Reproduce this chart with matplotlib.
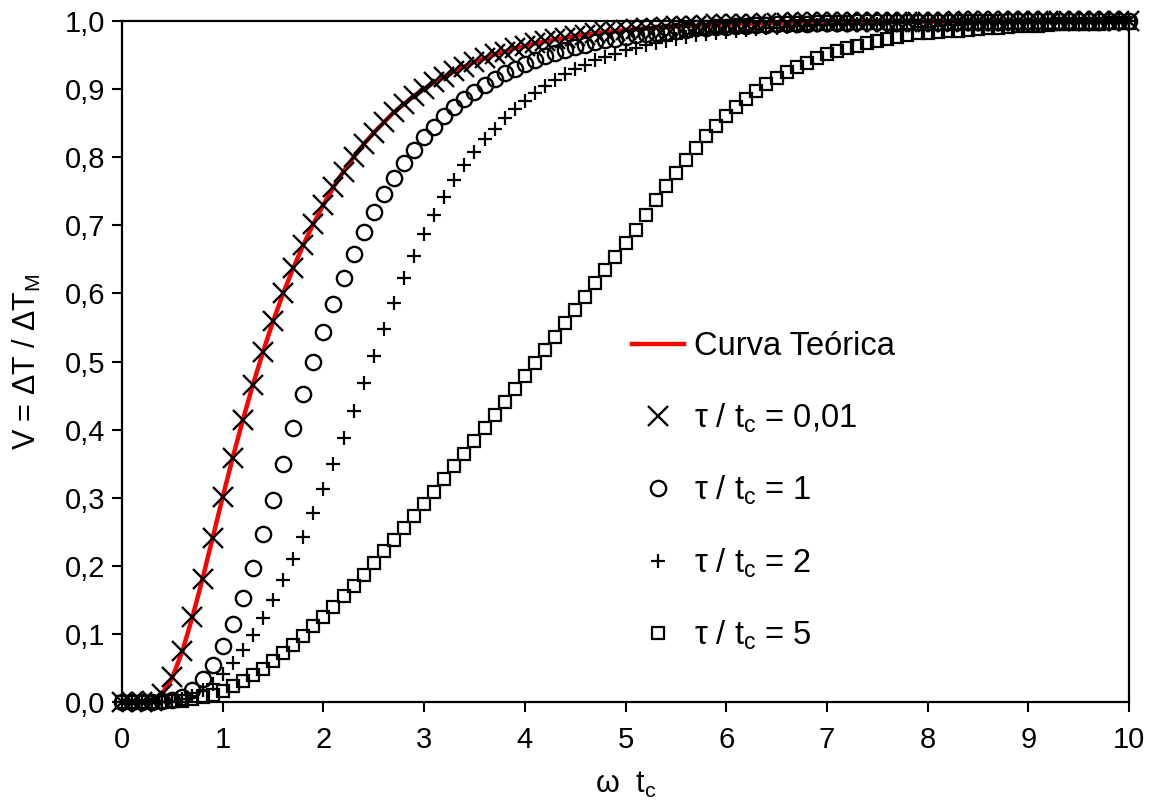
import numpy as np
import matplotlib
matplotlib.use("Agg")
import matplotlib.pyplot as plt

plt.rcParams["font.family"] = ["Liberation Sans", "DejaVu Sans"]
plt.rcParams["mathtext.fontset"] = "custom"
plt.rcParams["mathtext.rm"] = "Liberation Sans"
plt.rcParams["mathtext.it"] = "Liberation Sans:italic"
plt.rcParams["mathtext.default"] = "regular"

# omega*tc grid, step 0.1
wt = np.round(np.arange(0, 101) * 0.1, 1)

# theoretical curve (also the tau/tc = 0,01 points)
v_teo = [
    0.000, 0.000, 0.000, 0.002, 0.012, 0.036, 0.075, 0.125, 0.181, 0.241,
    0.301, 0.359, 0.414, 0.466, 0.514, 0.559, 0.600, 0.637, 0.671, 0.702,
    0.730, 0.756, 0.779, 0.800, 0.819, 0.836, 0.851, 0.866, 0.878, 0.890,
    0.900, 0.910, 0.918, 0.926, 0.933, 0.940, 0.945, 0.951, 0.955, 0.960,
    0.963, 0.967, 0.970, 0.973, 0.975, 0.978, 0.980, 0.982, 0.984, 0.985,
    0.987, 0.988, 0.989, 0.990, 0.991, 0.992, 0.993, 0.993, 0.994, 0.995,
    0.995, 0.996, 0.996, 0.996, 0.997, 0.997, 0.997, 0.998, 0.998, 0.998,
    0.998, 0.998, 0.999, 0.999, 0.999, 0.999, 0.999, 0.999, 0.999, 0.999,
    0.999, 0.999, 0.999, 1.000, 1.000, 1.000, 1.000, 1.000, 1.000, 1.000,
    1.000, 1.000, 1.000, 1.000, 1.000, 1.000, 1.000, 1.000, 1.000, 1.000,
    1.000,
]
v_001 = list(v_teo)

v_1 = [
    0.000, 0.000, 0.000, 0.000, 0.001, 0.003, 0.008, 0.018, 0.034, 0.055,
    0.082, 0.115, 0.153, 0.197, 0.246, 0.297, 0.350, 0.402, 0.452, 0.499,
    0.544, 0.585, 0.623, 0.658, 0.690, 0.719, 0.746, 0.770, 0.791, 0.811,
    0.829, 0.845, 0.860, 0.873, 0.885, 0.896, 0.906, 0.915, 0.923, 0.930,
    0.937, 0.943, 0.948, 0.953, 0.958, 0.962, 0.965, 0.969, 0.972, 0.974,
    0.977, 0.979, 0.981, 0.983, 0.984, 0.986, 0.987, 0.989, 0.990, 0.991,
    0.991, 0.992, 0.993, 0.994, 0.994, 0.995, 0.995, 0.996, 0.996, 0.997,
    0.997, 0.997, 0.997, 0.998, 0.998, 0.998, 0.998, 0.998, 0.999, 0.999,
    0.999, 0.999, 0.999, 0.999, 0.999, 0.999, 0.999, 0.999, 1.000, 1.000,
    1.000, 1.000, 1.000, 1.000, 1.000, 1.000, 1.000, 1.000, 1.000, 1.000,
    1.000,
]

v_2 = [
    0.000, 0.000, 0.000, 0.000, 0.000, 0.002, 0.004, 0.009, 0.017, 0.027,
    0.041, 0.057, 0.077, 0.099, 0.123, 0.150, 0.179, 0.210, 0.243, 0.277,
    0.313, 0.350, 0.388, 0.428, 0.468, 0.508, 0.548, 0.586, 0.622, 0.655,
    0.687, 0.715, 0.742, 0.766, 0.788, 0.808, 0.826, 0.842, 0.857, 0.871,
    0.883, 0.894, 0.904, 0.913, 0.922, 0.929, 0.936, 0.942, 0.947, 0.952,
    0.957, 0.961, 0.965, 0.968, 0.971, 0.974, 0.976, 0.979, 0.981, 0.982,
    0.984, 0.986, 0.987, 0.988, 0.989, 0.990, 0.991, 0.992, 0.993, 0.994,
    0.994, 0.995, 0.995, 0.996, 0.996, 0.996, 0.997, 0.997, 0.997, 0.998,
    0.998, 0.998, 0.998, 0.998, 0.999, 0.999, 0.999, 0.999, 0.999, 0.999,
    0.999, 0.999, 0.999, 0.999, 0.999, 1.000, 1.000, 1.000, 1.000, 1.000,
    1.000,
]

v_5 = [
    0.000, 0.000, 0.000, 0.000, 0.000, 0.001, 0.002, 0.004, 0.007, 0.011,
    0.016, 0.023, 0.031, 0.039, 0.049, 0.060, 0.072, 0.084, 0.097, 0.111,
    0.125, 0.140, 0.155, 0.171, 0.187, 0.204, 0.221, 0.238, 0.255, 0.273,
    0.291, 0.309, 0.327, 0.346, 0.364, 0.383, 0.402, 0.421, 0.440, 0.459,
    0.478, 0.498, 0.517, 0.536, 0.556, 0.575, 0.595, 0.615, 0.634, 0.654,
    0.674, 0.693, 0.715, 0.737, 0.758, 0.777, 0.796, 0.814, 0.831, 0.846,
    0.861, 0.874, 0.886, 0.897, 0.907, 0.917, 0.925, 0.933, 0.939, 0.946,
    0.951, 0.956, 0.960, 0.964, 0.968, 0.971, 0.974, 0.977, 0.980, 0.982,
    0.983, 0.984, 0.985, 0.986, 0.987, 0.988, 0.989, 0.990, 0.991, 0.992,
    0.993, 0.993, 0.994, 0.995, 0.995, 0.996, 0.996, 0.996, 0.997, 0.997,
    0.997,
]

labels = ["Curva Teórica",
          "τ / t$_{c}$ = 0,01",
          "τ / t$_{c}$ = 1",
          "τ / t$_{c}$ = 2",
          "τ / t$_{c}$ = 5"]

fig = plt.figure(figsize=(11.54, 8.05), dpi=100)
ax = fig.add_axes([122 / 1154, 1 - 702 / 805, (1129 - 122) / 1154, (702 - 21) / 805])

ax.plot(wt, v_teo, color="#ff0000", lw=3.2, label=labels[0], zorder=2, clip_on=False)
ax.plot(wt, v_001, ls="none", marker="x", ms=15, mew=1.7, color="black",
        label=labels[1], zorder=3, clip_on=False)
ax.plot(wt, v_1, ls="none", marker="o", ms=11, mew=1.7, mfc="none", mec="black",
        label=labels[2], zorder=3, clip_on=False)
ax.plot(wt, v_2, ls="none", marker="+", ms=10, mew=1.6, color="black",
        label=labels[3], zorder=3, clip_on=False)
ax.plot(wt, v_5, ls="none", marker="s", ms=8, mew=1.6, mfc="none", mec="black",
        label=labels[4], zorder=3, clip_on=False)

ax.set_xlim(0, 10)
ax.set_ylim(0, 1)
ax.set_xticks(np.arange(0, 11))
yt = np.round(np.arange(0, 11) * 0.1, 1)
ax.set_yticks(yt)
ax.set_yticklabels([f"{v:.1f}".replace(".", ",") for v in yt])
ax.tick_params(labelsize=21, length=7, width=1.5, direction="out")
ax.tick_params(axis="x", pad=10)
ax.tick_params(axis="y", pad=5)
for sp in ax.spines.values():
    sp.set_linewidth(1.6)

ax.set_xlabel("ω  t$_{c}$", fontsize=22, labelpad=12)
ax.set_ylabel("V = ΔT / ΔT$_{M}$", fontsize=22, labelpad=16)

ax.legend(loc="upper left", bbox_to_anchor=(632 / 1154, 1 - 331 / 805),
          bbox_transform=fig.transFigure, frameon=False, fontsize=23.5,
          handlelength=1.6, handletextpad=0.3, labelspacing=1.2,
          borderpad=0, borderaxespad=0, numpoints=1)

fig.savefig("out.png", dpi=100)
